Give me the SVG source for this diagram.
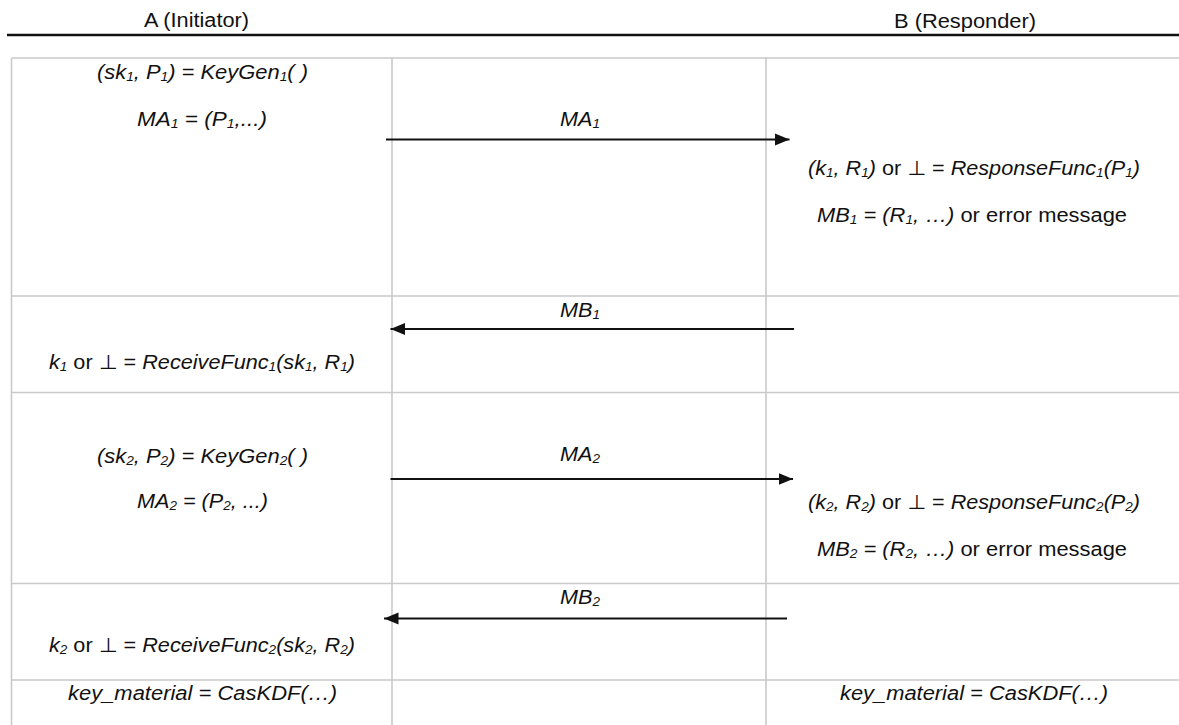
<svg xmlns="http://www.w3.org/2000/svg" width="1179" height="725" viewBox="0 0 1179 725">
  <style>
    text { font-family: "Liberation Sans", Arial, "DejaVu Sans", sans-serif; font-size: 20px; fill: #111; }
    .head { font-size: 19.5px; }
    .it { font-style: italic; }
    .up { font-style: normal; }
    .sub { font-size: 12.5px; }
    .grid { stroke: #c9c9c9; stroke-width: 1.6; fill: none; }
    .msg { stroke: #111; stroke-width: 1.8; fill: none; }
  </style>
  <defs>
    <marker id="head" markerUnits="userSpaceOnUse" markerWidth="16" markerHeight="13" refX="14.5" refY="6.5" orient="auto">
      <path d="M0,0.5 L14.5,6.5 L0,12.5 Z" fill="#111"/>
    </marker>
  </defs>

  <rect width="1179" height="725" fill="#fff"/>

  <!-- party headings -->
  <g id="headings">
    <text class="head" x="144" y="27" textLength="105" lengthAdjust="spacingAndGlyphs">A (Initiator)</text>
    <text class="head" x="894" y="28" textLength="142" lengthAdjust="spacingAndGlyphs">B (Responder)</text>
    <line x1="7" y1="35" x2="1179" y2="35" stroke="#111" stroke-width="2.4"/>
  </g>

  <!-- table grid -->
  <g id="grid" class="grid">
    <line x1="11.5" y1="58" x2="1179" y2="58"/>
    <line x1="11.5" y1="58" x2="11.5" y2="725"/>
    <line x1="392" y1="58" x2="392" y2="725"/>
    <line x1="766" y1="58" x2="766" y2="725"/>
    <line x1="11.5" y1="296" x2="1179" y2="296"/>
    <line x1="11.5" y1="392.5" x2="1179" y2="392.5"/>
    <line x1="11.5" y1="583.5" x2="1179" y2="583.5"/>
    <line x1="11.5" y1="680" x2="1179" y2="680"/>
  </g>

  <!-- step 1: A generates key pair -->
  <g id="a-keygen1">
    <text class="it" x="97" y="79" textLength="211" lengthAdjust="spacingAndGlyphs">(sk<tspan class="sub" dy="2">1</tspan><tspan dy="-2">, P</tspan><tspan class="sub" dy="2">1</tspan><tspan dy="-2">) = KeyGen</tspan><tspan class="sub" dy="2">1</tspan><tspan dy="-2">( )</tspan></text>
    <text class="it" x="137" y="126" textLength="130" lengthAdjust="spacingAndGlyphs">MA<tspan class="sub" dy="2">1</tspan><tspan dy="-2"> = (P</tspan><tspan class="sub" dy="2">1</tspan><tspan dy="-2">,...)</tspan></text>
  </g>

  <!-- step 1: B responds -->
  <g id="b-response1">
    <text class="it" x="808" y="175" textLength="332" lengthAdjust="spacingAndGlyphs">(k<tspan class="sub" dy="2">1</tspan><tspan dy="-2">, R</tspan><tspan class="sub" dy="2">1</tspan><tspan dy="-2">)</tspan><tspan class="up"> or ⊥ = </tspan>ResponseFunc<tspan class="sub" dy="2">1</tspan><tspan dy="-2">(P</tspan><tspan class="sub" dy="2">1</tspan><tspan dy="-2">)</tspan></text>
    <text class="it" x="817" y="222" textLength="310" lengthAdjust="spacingAndGlyphs">MB<tspan class="sub" dy="2">1</tspan><tspan dy="-2"> = (R</tspan><tspan class="sub" dy="2">1</tspan><tspan dy="-2">, …)</tspan><tspan class="up"> or error message</tspan></text>
  </g>

  <!-- step 1: A receives -->
  <g id="a-receive1">
    <text class="it" x="49" y="369" textLength="306" lengthAdjust="spacingAndGlyphs">k<tspan class="sub" dy="2">1</tspan><tspan class="up" dy="-2"> or ⊥ = </tspan>ReceiveFunc<tspan class="sub" dy="2">1</tspan><tspan dy="-2">(sk</tspan><tspan class="sub" dy="2">1</tspan><tspan dy="-2">, R</tspan><tspan class="sub" dy="2">1</tspan><tspan dy="-2">)</tspan></text>
  </g>

  <!-- step 2: A generates key pair -->
  <g id="a-keygen2">
    <text class="it" x="97" y="463" textLength="211" lengthAdjust="spacingAndGlyphs">(sk<tspan class="sub" dy="2">2</tspan><tspan dy="-2">, P</tspan><tspan class="sub" dy="2">2</tspan><tspan dy="-2">) = KeyGen</tspan><tspan class="sub" dy="2">2</tspan><tspan dy="-2">( )</tspan></text>
    <text class="it" x="137" y="508" textLength="131" lengthAdjust="spacingAndGlyphs">MA<tspan class="sub" dy="2">2</tspan><tspan dy="-2"> = (P</tspan><tspan class="sub" dy="2">2</tspan><tspan dy="-2">, ...)</tspan></text>
  </g>

  <!-- step 2: B responds -->
  <g id="b-response2">
    <text class="it" x="808" y="509" textLength="332" lengthAdjust="spacingAndGlyphs">(k<tspan class="sub" dy="2">2</tspan><tspan dy="-2">, R</tspan><tspan class="sub" dy="2">2</tspan><tspan dy="-2">)</tspan><tspan class="up"> or ⊥ = </tspan>ResponseFunc<tspan class="sub" dy="2">2</tspan><tspan dy="-2">(P</tspan><tspan class="sub" dy="2">2</tspan><tspan dy="-2">)</tspan></text>
    <text class="it" x="817" y="556" textLength="310" lengthAdjust="spacingAndGlyphs">MB<tspan class="sub" dy="2">2</tspan><tspan dy="-2"> = (R</tspan><tspan class="sub" dy="2">2</tspan><tspan dy="-2">, …)</tspan><tspan class="up"> or error message</tspan></text>
  </g>

  <!-- step 2: A receives -->
  <g id="a-receive2">
    <text class="it" x="49" y="652" textLength="306" lengthAdjust="spacingAndGlyphs">k<tspan class="sub" dy="2">2</tspan><tspan class="up" dy="-2"> or ⊥ = </tspan>ReceiveFunc<tspan class="sub" dy="2">2</tspan><tspan dy="-2">(sk</tspan><tspan class="sub" dy="2">2</tspan><tspan dy="-2">, R</tspan><tspan class="sub" dy="2">2</tspan><tspan dy="-2">)</tspan></text>
  </g>

  <!-- key derivation on both sides -->
  <g id="a-kdf">
    <text class="it" x="68" y="700" textLength="269" lengthAdjust="spacingAndGlyphs">key_material = CasKDF(…)</text>
  </g>
  <g id="b-kdf">
    <text class="it" x="840" y="700" textLength="268" lengthAdjust="spacingAndGlyphs">key_material = CasKDF(…)</text>
  </g>

  <!-- messages exchanged -->
  <g id="connectors">
    <line class="msg" x1="386" y1="139.5" x2="789.5" y2="139.5" marker-end="url(#head)"/>
    <text class="it" x="560" y="126" textLength="40" lengthAdjust="spacingAndGlyphs">MA<tspan class="sub" dy="2">1</tspan></text>

    <line class="msg" x1="794" y1="329" x2="390.5" y2="329" marker-end="url(#head)"/>
    <text class="it" x="560" y="317" textLength="40" lengthAdjust="spacingAndGlyphs">MB<tspan class="sub" dy="2">1</tspan></text>

    <line class="msg" x1="390.5" y1="479" x2="793" y2="479" marker-end="url(#head)"/>
    <text class="it" x="560" y="461" textLength="40" lengthAdjust="spacingAndGlyphs">MA<tspan class="sub" dy="2">2</tspan></text>

    <line class="msg" x1="787" y1="618.5" x2="384" y2="618.5" marker-end="url(#head)"/>
    <text class="it" x="560" y="604" textLength="40" lengthAdjust="spacingAndGlyphs">MB<tspan class="sub" dy="2">2</tspan></text>
  </g>
</svg>
